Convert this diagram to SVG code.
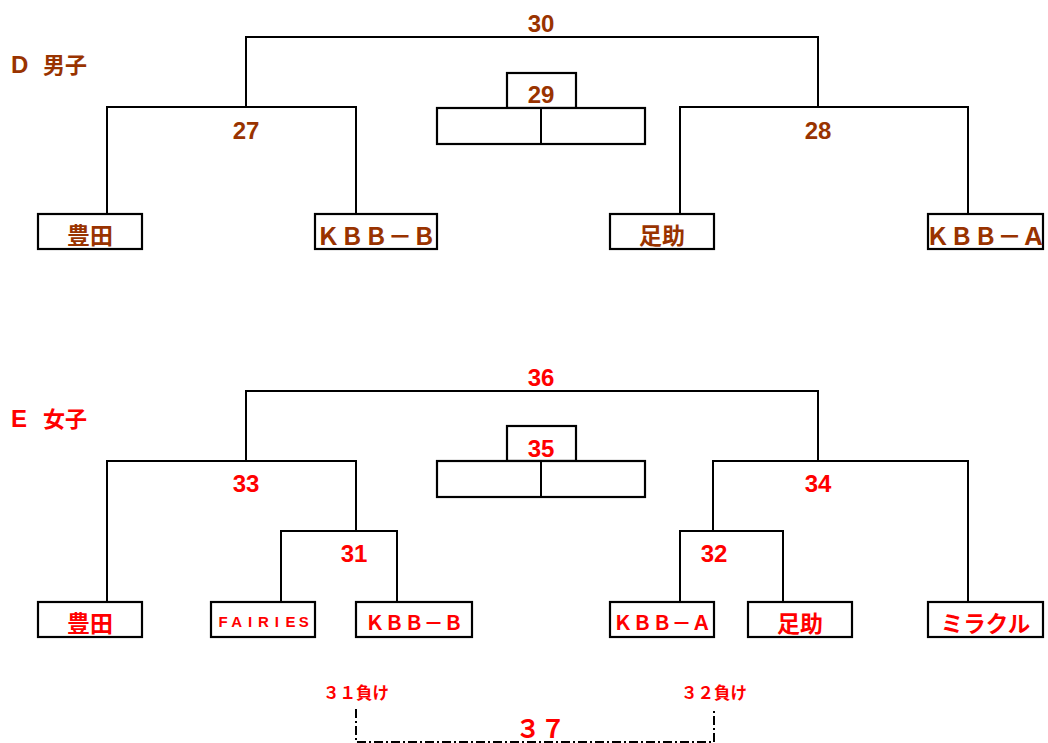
<svg xmlns="http://www.w3.org/2000/svg" width="1048" height="743" viewBox="0 0 1048 743">
<style>
.ln{fill:none;stroke:#000;stroke-width:2;stroke-linecap:square}
.bx{fill:#fff;stroke:#000;stroke-width:2.2}
.dd{fill:none;stroke:#000;stroke-width:2;stroke-dasharray:9 3 2 3}
.t{font-family:"Liberation Sans","Noto Sans CJK JP",sans-serif;font-weight:bold;text-anchor:middle}
.j{font-family:"Noto Sans CJK JP","Liberation Sans",sans-serif;font-weight:bold;text-anchor:middle}
.br{fill:#993300}
.rd{fill:#ff0000}
.n{font-size:24px}
.nm{font-size:23px}
.kb{font-size:24px}
.ks{font-size:19.6px}
</style>
<rect width="1048" height="743" fill="#fff"/>
<g id="connectors">
  <path class="ln" d="M246,107 V37 H818 V107"/>
  <path class="ln" d="M107,214 V107 H356 V214"/>
  <path class="ln" d="M680,214 V107 H968 V214"/>
  <path class="ln" d="M246,461 V391 H818 V461"/>
  <path class="ln" d="M107,602 V461 H356 V531"/>
  <path class="ln" d="M281,602 V531 H397 V602"/>
  <path class="ln" d="M713,531 V461 H968 V602"/>
  <path class="ln" d="M680,602 V531 H783 V602"/>
  <path class="dd" d="M356,709 V742 H714 V709"/>
</g>
<g id="title-d"><text class="t br" x="11" y="73" style="text-anchor:start;font-size:24px">D <tspan x="43" style="font-family:'Noto Sans CJK JP',sans-serif;font-size:22px">男子</tspan></text></g>
<g id="title-e"><text class="t rd" x="11" y="427" style="text-anchor:start;font-size:24px">E <tspan x="43" style="font-family:'Noto Sans CJK JP',sans-serif;font-size:22px">女子</tspan></text></g>
<g id="m30"><text class="t br n" x="541" y="32">30</text></g>
<g id="m29">
  <rect class="bx" x="507" y="73" width="69" height="35"/>
  <rect class="bx" x="437" y="108" width="208" height="36"/>
  <line class="ln" x1="541" y1="108" x2="541" y2="144"/>
  <text class="t br n" x="541" y="103">29</text>
</g>
<g id="m27"><text class="t br n" x="246" y="139">27</text></g>
<g id="m28"><text class="t br n" x="818" y="139">28</text></g>
<g id="d-toyota"><rect class="bx" x="38" y="214" width="104" height="35"/><text class="j br nm" x="90" y="244">豊田</text></g>
<g id="d-kbbb"><rect class="bx" x="315" y="214" width="122" height="35"/><text class="j br kb" x="376" y="244.5">ＫＢＢ－Ｂ</text></g>
<g id="d-asuke"><rect class="bx" x="610" y="214" width="104" height="35"/><text class="j br nm" x="662" y="244">足助</text></g>
<g id="d-kbba"><rect class="bx" x="928" y="214" width="115" height="35"/><text class="j br kb" x="985.5" y="244.5">ＫＢＢ－Ａ</text></g>
<g id="m36"><text class="t rd n" x="541" y="386">36</text></g>
<g id="m35">
  <rect class="bx" x="507" y="426" width="69" height="35"/>
  <rect class="bx" x="437" y="461" width="208" height="36"/>
  <line class="ln" x1="541" y1="461" x2="541" y2="497"/>
  <text class="t rd n" x="541" y="457">35</text>
</g>
<g id="m33"><text class="t rd n" x="246" y="492">33</text></g>
<g id="m34"><text class="t rd n" x="818" y="492">34</text></g>
<g id="m31"><text class="t rd n" x="354" y="562">31</text></g>
<g id="m32"><text class="t rd n" x="714" y="562">32</text></g>
<g id="e-toyota"><rect class="bx" x="38" y="602" width="104" height="35"/><text class="j rd nm" x="90" y="632">豊田</text></g>
<g id="e-fairies"><rect class="bx" x="211" y="602" width="104" height="35"/><text class="t rd" style="font-size:15px" x="223.2 236.6 250.1 263.5 276.9 290.4 303.8" y="627">FAIRIES</text></g>
<g id="e-kbbb"><rect class="bx" x="356" y="602" width="116" height="35"/><text class="j rd ks" x="414" y="630">ＫＢＢ－Ｂ</text></g>
<g id="e-kbba"><rect class="bx" x="610" y="602" width="104" height="35"/><text class="j rd ks" x="662" y="630">ＫＢＢ－Ａ</text></g>
<g id="e-asuke"><rect class="bx" x="748" y="602" width="104" height="35"/><text class="j rd nm" x="800" y="632">足助</text></g>
<g id="e-miracle"><rect class="bx" x="928" y="602" width="115" height="35"/><text class="j rd" x="985.5" y="632" style="font-size:22.5px">ミラクル</text></g>
<g id="lose31"><text class="j rd" x="356" y="699" style="font-size:16.5px">３１負け</text></g>
<g id="lose32"><text class="j rd" x="714" y="699" style="font-size:16.5px">３２負け</text></g>
<g id="m37"><text class="j rd" x="540.5" y="738" style="font-size:25px">３７</text></g>
</svg>
